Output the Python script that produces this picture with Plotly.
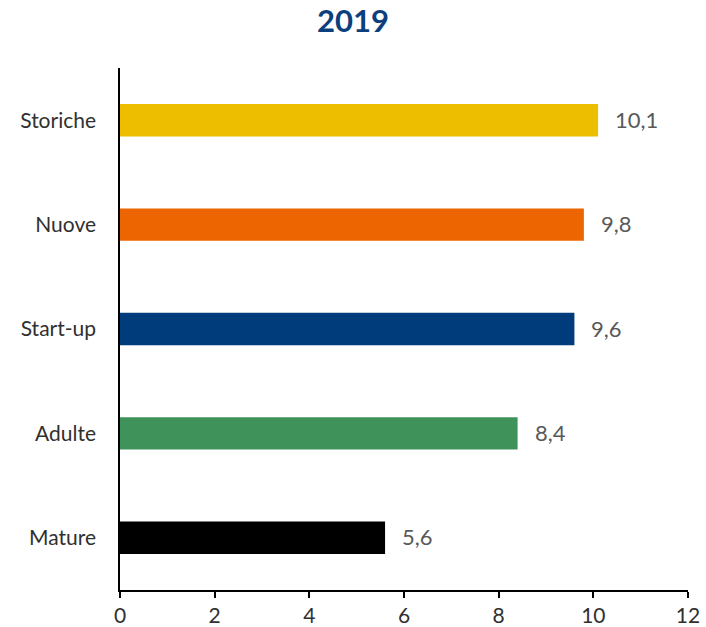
import plotly.graph_objects as go

categories = ["Mature", "Adulte", "Start-up", "Nuove", "Storiche"]
values = [5.6, 8.4, 9.6, 9.8, 10.1]
labels = ["5,6", "8,4", "9,6", "9,8", "10,1"]
colors = ["#000000", "#3F935A", "#003B7C", "#EC6500", "#EDBE00"]
tick_vals = [0, 2, 4, 6, 8, 10, 12]

font_family = "Lato, 'DejaVu Sans', sans-serif"

fig = go.Figure(go.Bar(
    x=values, y=categories, orientation="h",
    marker=dict(color=colors, line=dict(width=0)),
    width=0.31,
))

for cat, v, lab in zip(categories, values, labels):
    fig.add_annotation(x=v, y=cat, text=lab, showarrow=False, xanchor="left",
                       yanchor="middle", xshift=15, yshift=1,
                       font=dict(size=22, color="#595959", family=font_family))

fig.update_layout(
    width=706, height=627,
    margin=dict(l=120, r=18, t=68, b=37, autoexpand=False),
    paper_bgcolor="white", plot_bgcolor="white",
    showlegend=False,
    title=dict(text="<b>2019</b>", x=0.5, xanchor="center", y=0.966, yanchor="middle",
               font=dict(size=31, color="#0B3F7E", family=font_family)),
    xaxis=dict(range=[0, 12], tickvals=tick_vals, showgrid=False, zeroline=False,
               automargin=False,
               showline=True, linecolor="black", linewidth=1.5,
               ticks="outside", ticklen=6, tickcolor="black", tickwidth=1.5,
               tickfont=dict(size=21, color="#303030", family=font_family)),
    yaxis=dict(showgrid=False, zeroline=False, showline=True, linecolor="black",
               automargin=False,
               linewidth=1.5, ticks="", ticklabelstandoff=18,
               tickfont=dict(size=21, color="#303030", family=font_family)),
)

fig.write_html("out.html")
